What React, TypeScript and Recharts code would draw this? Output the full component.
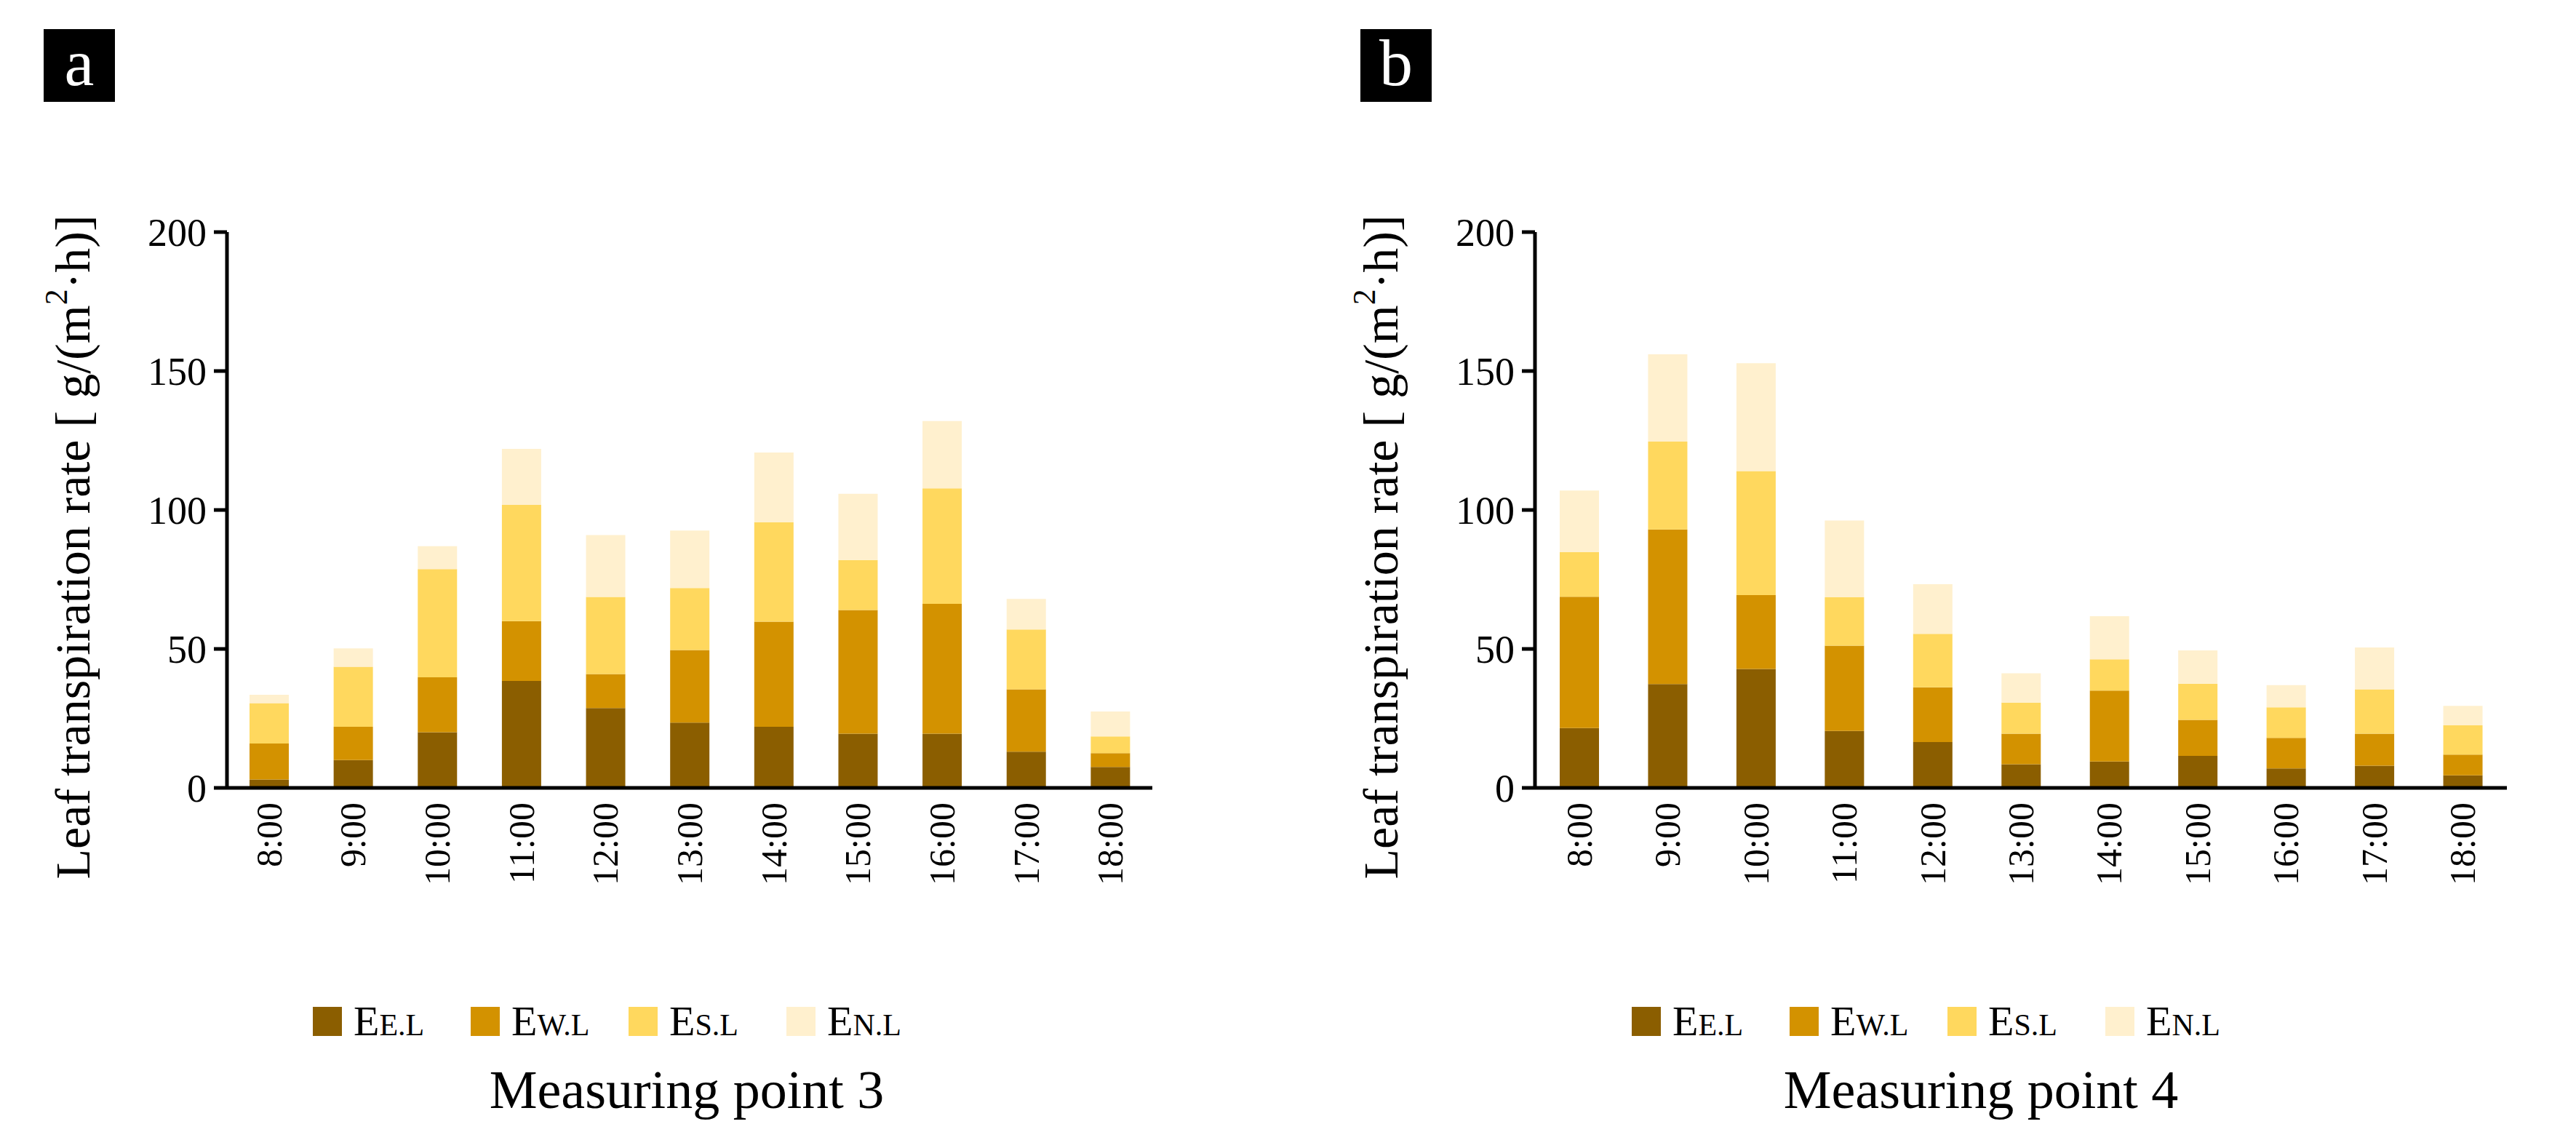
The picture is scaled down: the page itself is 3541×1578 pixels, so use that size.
import { BarChart, Bar, XAxis, YAxis, Legend } from 'recharts'

const FONT = '"Liberation Serif", "Times New Roman", serif'

const hours = ['8:00', '9:00', '10:00', '11:00', '12:00', '13:00', '14:00', '15:00', '16:00', '17:00', '18:00']
const yTicks = [0, 50, 100, 150, 200]

// Measuring point 3 (segment heights, stacked bottom to top)
const p3EE = [3, 10, 20, 38.5, 28.7, 23.5, 22, 19.5, 19.5, 13, 7.5]
const p3EW = [13, 12, 19.8, 21.5, 12.3, 26.1, 37.8, 44.5, 46.7, 22.5, 5]
const p3ES = [14.5, 21.6, 38.9, 41.8, 27.7, 22.3, 35.8, 18, 41.6, 21.5, 6]
const p3EN = [3, 6.6, 8.3, 20.2, 22.3, 20.7, 25.1, 23.8, 24.2, 11, 9]

// Measuring point 4
const p4EE = [21.5, 37.4, 42.8, 20.5, 16.5, 8.5, 9.5, 11.5, 7, 8, 4.5]
const p4EW = [47.3, 55.6, 26.6, 30.7, 19.7, 11, 25.5, 13, 11, 11.5, 7.5]
const p4ES = [16, 31.6, 44.6, 17.4, 19.2, 11.2, 11.3, 13, 11, 16, 10.5]
const p4EN = [22.2, 31.4, 38.8, 27.6, 17.9, 10.5, 15.5, 12, 8, 15, 7]

const series = [
  { key: 'EE', sub: 'E.L', color: '#8B5E00' },
  { key: 'EW', sub: 'W.L', color: '#D39200' },
  { key: 'ES', sub: 'S.L', color: '#FFD85E' },
  { key: 'EN', sub: 'N.L', color: '#FFF0CE' },
]

const AXIS_X = 312
const CHART_H = 1578

const HourTick = (props: any) => {
  const { x, y, payload } = props
  return (
    <text
      x={x}
      y={y}
      transform={`rotate(-90 ${x} ${y})`}
      textAnchor="end"
      dominantBaseline="central"
      fontSize={50}
      fontFamily={FONT}
      fill="#000"
    >
      {payload.value}
    </text>
  )
}

const renderLegend = () => (
  <div style={{ display: 'flex', alignItems: 'center', fontFamily: FONT, color: '#000' }}>
    {series.map((s) => (
      <div key={s.key} style={{ display: 'flex', alignItems: 'center', width: 217 }}>
        <div style={{ width: 40, height: 40, background: s.color, marginRight: 16 }} />
        <span style={{ fontSize: 58 }}>
          E<span style={{ fontSize: 42 }}>{s.sub}</span>
        </span>
      </div>
    ))}
  </div>
)

const yLabel = () => (
  <text
    x={100}
    y={752}
    transform="rotate(-90 100 752)"
    textAnchor="middle"
    dominantBaseline="central"
    fontSize={68}
    fontFamily={FONT}
    fill="#000"
  >
    Leaf transpiration rate [ g/(m
    <tspan fontSize={44} dy={-23}>2</tspan>
    <tspan dy={23}>·h)]</tspan>
  </text>
)

function Panel({ letter, title, left, plotWidth, boxLeft, legendLeft, titleCenter, ee, ew, es, en }: any) {
  const data = hours.map((h, i) => ({ hour: h, EE: ee[i], EW: ew[i], ES: es[i], EN: en[i] }))
  const chartW = AXIS_X + plotWidth + 30
  return (
    <div style={{ position: 'absolute', left, top: 0, width: chartW, height: CHART_H }}>
      <div
        style={{
          position: 'absolute',
          left: boxLeft,
          top: 40,
          width: 98,
          height: 100,
          background: '#000',
          color: '#fff',
          fontFamily: FONT,
          fontSize: 92,
          lineHeight: '92px',
          textAlign: 'center',
        }}
      >
        {letter}
      </div>
      <BarChart
        width={chartW}
        height={CHART_H}
        data={data}
        margin={{ top: 319, right: 30, bottom: 365, left: AXIS_X - 120 }}
        barSize={54}
      >
        <XAxis
          dataKey="hour"
          interval={0}
          height={130}
          axisLine={{ stroke: '#000', strokeWidth: 5 }}
          tickLine={false}
          tickMargin={14}
          tick={<HourTick />}
        />
        <YAxis
          width={120}
          domain={[0, 200]}
          ticks={yTicks}
          interval={0}
          axisLine={{ stroke: '#000', strokeWidth: 5 }}
          tickLine={{ stroke: '#000', strokeWidth: 5 }}
          tickSize={18}
          tickMargin={10}
          tick={{ fill: '#000', fontSize: 54, fontFamily: FONT }}
          label={{ content: yLabel }}
        />
        <Legend
          layout="horizontal"
          verticalAlign="middle"
          align="center"
          wrapperStyle={{ top: 1370, left: legendLeft, width: 900 }}
          content={renderLegend}
        />
        {series.map((s) => (
          <Bar key={s.key} dataKey={s.key} stackId="a" fill={s.color} isAnimationActive={false} />
        ))}
      </BarChart>
      <div
        style={{
          position: 'absolute',
          left: titleCenter - 400,
          top: 1458,
          width: 800,
          textAlign: 'center',
          fontFamily: FONT,
          fontSize: 74,
          lineHeight: '80px',
          color: '#000',
        }}
      >
        {title}
      </div>
    </div>
  )
}

export default function App() {
  return (
    <div style={{ position: 'relative', width: 3541, height: 1578, background: '#fff' }}>
      <style>{'body{margin:0}'}</style>
      <Panel
        letter="a"
        title="Measuring point 3"
        left={0}
        plotWidth={1272}
        boxLeft={60}
        legendLeft={430}
        titleCenter={944}
        ee={p3EE}
        ew={p3EW}
        es={p3ES}
        en={p3EN}
      />
      <Panel
        letter="b"
        title="Measuring point 4"
        left={1798}
        plotWidth={1336}
        boxLeft={72}
        legendLeft={445}
        titleCenter={925}
        ee={p4EE}
        ew={p4EW}
        es={p4ES}
        en={p4EN}
      />
    </div>
  )
}
